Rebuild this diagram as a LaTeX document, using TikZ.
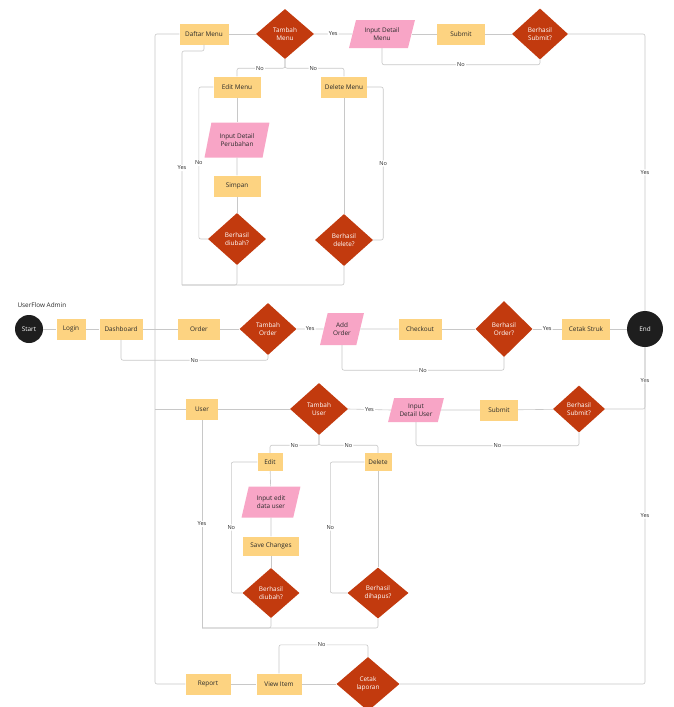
\documentclass[tikz,border=0pt]{standalone}
\usepackage{fontspec}
\setmainfont{Open Sans}
\usetikzlibrary{shapes.geometric,calc}
\definecolor{boxc}{HTML}{FDD381}
\definecolor{decc}{HTML}{C23A0E}
\definecolor{parc}{HTML}{F8A5C6}
\definecolor{linec}{HTML}{C8C8C8}
\definecolor{darkc}{HTML}{1E1E1E}
\definecolor{txtc}{HTML}{2A2A2A}
\begin{document}
\begin{tikzpicture}[x=1pt,y=-1pt,
 every node/.style={font=\fontsize{6.4}{8}\selectfont, text=txtc},
 box/.style={rectangle, fill=boxc, inner sep=0pt, minimum height=21pt},
 dec/.style={diamond, fill=decc, text=white, inner sep=0pt, align=center, minimum width=58pt, minimum height=52pt},
 para/.style={trapezium, trapezium left angle=70, trapezium right angle=110, trapezium stretches=true, fill=parc, inner sep=0pt, align=center},
 term/.style={circle, fill=darkc, text=white, inner sep=0pt},
 ln/.style={draw=linec, line width=0.6pt, rounded corners=2pt},
 lbl/.style={fill=white, inner sep=1pt, font=\fontsize{5.6}{7}\selectfont}
]
\useasboundingbox (0,0) rectangle (674,707);
\clip (0,0) rectangle (674,707);
\fill[white] (0,0) rectangle (674,707);

% middle row
\node[anchor=west] (title) at (14,305) {UserFlow Admin};
\node[term, minimum size=28pt] (start) at (29,329) {Start};
\node[box, minimum width=29pt] (login) at (71,329) {Login};
\node[box, minimum width=43pt] (dash) at (121,329) {Dashboard};
\node[box, minimum width=42pt] (ord) at (199,329) {Order};
\node[dec, minimum width=57pt, minimum height=52pt] (tor) at (268,329) {Tambah\\Order};
\node[para, minimum width=44pt, minimum height=32pt] (ado) at (342,329) {Add\\Order};
\node[box, minimum width=43pt] (chk) at (420,329) {Checkout};
\node[dec, minimum width=57pt, minimum height=56pt] (bor) at (504,329) {Berhasil\\Order?};
\node[box, minimum width=48pt] (cs) at (586,329) {Cetak Struk};
\node[term, minimum size=36pt] (end) at (645,329) {End};

% top section
\node[box, minimum width=49pt] (dm) at (204,34) {Daftar Menu};
\node[dec, minimum height=50pt] (tm) at (285,34) {Tambah\\Menu};
\node[para, minimum width=66pt, minimum height=28pt] (idm) at (382,34) {Input Detail\\Menu};
\node[box, minimum width=48pt] (sm1) at (461,34) {Submit};
\node[dec, minimum width=56pt, minimum height=51pt] (bs1) at (540,34) {Berhasil\\Submit?};
\node[box, minimum width=47pt] (em) at (237,87) {Edit Menu};
\node[box, minimum width=46pt] (dlm) at (344,87) {Delete Menu};
\node[para, minimum width=65pt, minimum height=35pt] (ipb) at (237,140) {Input Detail\\Perubahan};
\node[box, minimum width=47pt] (simp) at (237,186) {Simpan};
\node[dec] (bd1) at (237,239) {Berhasil\\diubah?};
\node[dec] (bdl) at (344,240) {Berhasil\\delete?};

% user section
\node[box, minimum width=32pt] (usr) at (202,409) {User};
\node[dec] (tu) at (319,409) {Tambah\\User};
\node[para, minimum width=56pt, minimum height=24pt] (idu) at (416,410) {Input\\Detail User};
\node[box, minimum width=38pt] (sm2) at (499,410) {Submit};
\node[dec, minimum width=52pt, minimum height=47pt] (bs2) at (579,409) {Berhasil\\Submit?};
\node[box, minimum width=25pt, minimum height=18pt] (ed) at (270,462) {Edit};
\node[box, minimum width=27pt, minimum height=18pt] (del) at (378,462) {Delete};
\node[para, minimum width=59pt, minimum height=31pt] (iedu) at (271,502) {Input edit\\data user};
\node[box, minimum width=56pt, minimum height=19pt] (sc) at (271,546) {Save Changes};
\node[dec, minimum width=57pt, minimum height=50pt] (bd2) at (271,593) {Berhasil\\diubah?};
\node[dec, minimum width=61pt, minimum height=51pt] (bdh) at (378,593) {Berhasil\\dihapus?};

% bottom
\node[box, minimum width=45pt] (rep) at (208,684) {Report};
\node[box, minimum width=45pt] (vi) at (279,684) {View Item};
\node[dec, minimum width=63pt, minimum height=54pt] (cl) at (368,684) {Cetak\\laporan};

\coordinate (trk) at (155,500);
\coordinate (yesL) at (182,285);
\coordinate (yesU) at (202,628);

% connectors: middle row
\draw[ln] (start) -- (login);
\draw[ln] (login) -- (dash);
\draw[ln] (dash) -- (ord);
\draw[ln] (ord) -- (tor);
\draw[ln] (tor.east) -- node[lbl]{Yes} (ado.west);
\draw[ln] (ado) -- (chk);
\draw[ln] (chk) -- (bor);
\draw[ln] (bor.east) -- node[lbl]{Yes} (cs.west);
\draw[ln] (cs) -- (end);
\draw[ln] (tor.south) -- ++(0,5) -| node[lbl,pos=.25]{No} (dash.south);
\draw[ln] (bor.south) -- ++(0,13) -| node[lbl,pos=.25]{No} (ado.south);

% trunk
\draw[ln] (dm.west) -| (trk) |- (rep.west);
\draw[ln] (usr.west) -- (usr.west -| trk);

% top section
\draw[ln] (dm) -- (tm);
\draw[ln] (tm.east) -- node[lbl]{Yes} (idm.west);
\draw[ln] (idm) -- (sm1);
\draw[ln] (sm1) -- (bs1);
\draw[ln] (bs1.east) -| node[lbl,pos=.75]{Yes} (end.north);
\draw[ln] (bs1.south) -- ++(0,5) -| node[lbl,pos=.25]{No} (idm.south);
\draw[ln] (tm.south) -- ++(0,9) -| node[lbl,pos=.26]{No} (em.north);
\draw[ln] (tm.south) -- ++(0,9) -| node[lbl,pos=.24]{No} (dlm.north);
\draw[ln] (em) -- (ipb);
\draw[ln] (ipb) -- (simp);
\draw[ln] (simp) -- (bd1);
\draw[ln] (dlm) -- (bdl);
\draw[ln] (bd1.west) -- ++(-9,0) |- node[lbl,pos=.25]{No} (em.west);
\draw[ln] (bdl.east) -- ++(10,0) |- node[lbl,pos=.25]{No} (dlm.east);
\draw[ln] (bd1.south) |- (yesL);
\draw[ln] (bdl.south) |- (yesL);
\draw[ln] (yesL) -- node[lbl]{Yes} ++(0,-234) -| (dm.south);

% user section
\draw[ln] (usr) -- (tu);
\draw[ln] (tu.east) -- node[lbl]{Yes} (idu.west);
\draw[ln] (idu) -- (sm2);
\draw[ln] (sm2) -- (bs2);
\draw[ln] (bs2.east) -| node[lbl,pos=.73]{Yes} (end.south);
\draw[ln] (bs2.south) -- ++(0,13) -| node[lbl,pos=.25]{No} (idu.south);
\draw[ln] (tu.south) -- ++(0,10) -| node[lbl,pos=.25]{No} (ed.north);
\draw[ln] (tu.south) -- ++(0,10) -| node[lbl,pos=.25]{No} (del.north);
\draw[ln] (ed) -- (iedu);
\draw[ln] (iedu) -- (sc);
\draw[ln] (sc) -- (bd2);
\draw[ln] (del) -- (bdh);
\draw[ln] (bd2.west) -- ++(-11,0) |- node[lbl,pos=.25]{No} (ed.west);
\draw[ln] (bdh.west) -- ++(-17,0) |- node[lbl,pos=.25]{No} (del.west);
\draw[ln] (bd2.south) |- (yesU);
\draw[ln] (bdh.south) |- (yesU);
\draw[ln] (yesU) -- node[lbl]{Yes} (usr.south);

% bottom
\draw[ln] (rep) -- (vi);
\draw[ln] (vi) -- (cl);
\draw[ln] (cl.north) -- ++(0,-12) -| node[lbl,pos=.26]{No} (vi.north);
\draw[ln] (cl.east) -| node[lbl,pos=.75]{Yes} (end.south);
\end{tikzpicture}
\end{document}
